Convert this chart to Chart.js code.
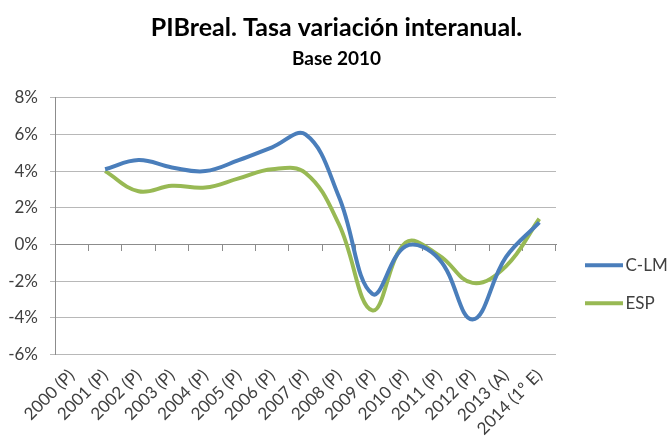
<!DOCTYPE html>
<html>
<head>
<meta charset="utf-8">
<script src="https://cdn.jsdelivr.net/npm/chart.js@4"></script>
<style>
  body { margin: 0; background: #fff; }
</style>
</head>
<body>
<canvas id="pibChart" width="668" height="442"></canvas>
<script>
const years = ['2000 (P)', '2001 (P)', '2002 (P)', '2003 (P)', '2004 (P)', '2005 (P)', '2006 (P)',
    '2007 (P)', '2008 (P)', '2009 (P)', '2010 (P)', '2011 (P)', '2012 (P)', '2013 (A)', '2014 (1º E)'];
const clm = [null, 4.1, 4.6, 4.2, 4.0, 4.6, 5.3, 6.0, 2.6, -2.7, -0.1, -0.8, -4.1, -0.7, 1.2];
const esp = [null, 4.0, 2.9, 3.2, 3.1, 3.6, 4.1, 3.9, 1.1, -3.6, 0.1, -0.6, -2.1, -1.2, 1.4];
const yMin = -6;
const yMax = 8;
const yStep = 2;

const font = 'Lato, "Open Sans", sans-serif';
const textColor = '#404040';

// legend swatch: a short thick line, left part of the image left transparent
function lineSwatch(color) {
    const c = document.createElement('canvas');
    c.width = 52;
    c.height = 6;
    const g = c.getContext('2d');
    g.fillStyle = color;
    g.fillRect(14, 1, 38, 4);
    return c;
}

const ctx = document.getElementById('pibChart').getContext('2d');
const pibChart = new Chart(ctx, {
    type: 'line',
    data: {
        labels: years,
        datasets: [{
            label: 'C-LM',
            data: clm,
            borderColor: '#4a7ebb',
            borderWidth: 4,
            tension: 0.4,
            pointRadius: 0,
            pointStyle: lineSwatch('#4a7ebb'),
        }, {
            label: 'ESP',
            data: esp,
            borderColor: '#98b954',
            borderWidth: 4,
            tension: 0.4,
            pointRadius: 0,
            pointStyle: lineSwatch('#98b954'),
        }],
    },
    options: {
        responsive: false,
        animation: false,
        layout: {
            padding: { left: 5, right: 0, top: 0, bottom: 0 },
        },
        plugins: {
            title: {
                display: true,
                text: 'PIBreal. Tasa variación interanual.',
                color: '#000',
                font: { family: font, size: 25, weight: 'bold' },
                padding: { top: 13, bottom: 0 },
            },
            subtitle: {
                display: true,
                text: 'Base 2010',
                color: '#000',
                font: { family: font, size: 19, weight: 'bold' },
                padding: { top: 4, bottom: 28 },
            },
            legend: {
                position: 'right',
                maxWidth: 112,
                title: { display: true, text: '', padding: { top: 0, bottom: 112 } },
                labels: {
                    usePointStyle: true,
                    pointStyleWidth: 40,
                    color: textColor,
                    font: { family: font, size: 17 },
                    padding: 21,
                },
            },
            tooltip: { enabled: false },
        },
        scales: {
            x: {
                offset: true,
                grid: { display: false },
                border: { display: false },
                ticks: {
                    autoSkip: false,
                    minRotation: 45,
                    maxRotation: 45,
                    padding: 3,
                    color: textColor,
                    font: { family: font, size: 17 },
                },
            },
            xZero: {
                axis: 'x',
                type: 'category',
                position: { y: 0 },
                offset: true,
                grid: { offset: true, drawOnChartArea: false, tickLength: 6, color: '#8c8c8c' },
                border: { color: '#8c8c8c' },
                ticks: { display: false },
            },
            y: {
                min: yMin,
                max: yMax,
                ticks: {
                    stepSize: yStep,
                    padding: 12,
                    color: textColor,
                    font: { family: font, size: 17 },
                    callback: v => v + '%',
                },
                grid: { color: '#b8b8b8', tickLength: 5 },
                border: { color: '#8c8c8c' },
                afterFit: scale => { scale.width = 50; },
            },
        },
    },
});
</script>
</body>
</html>
